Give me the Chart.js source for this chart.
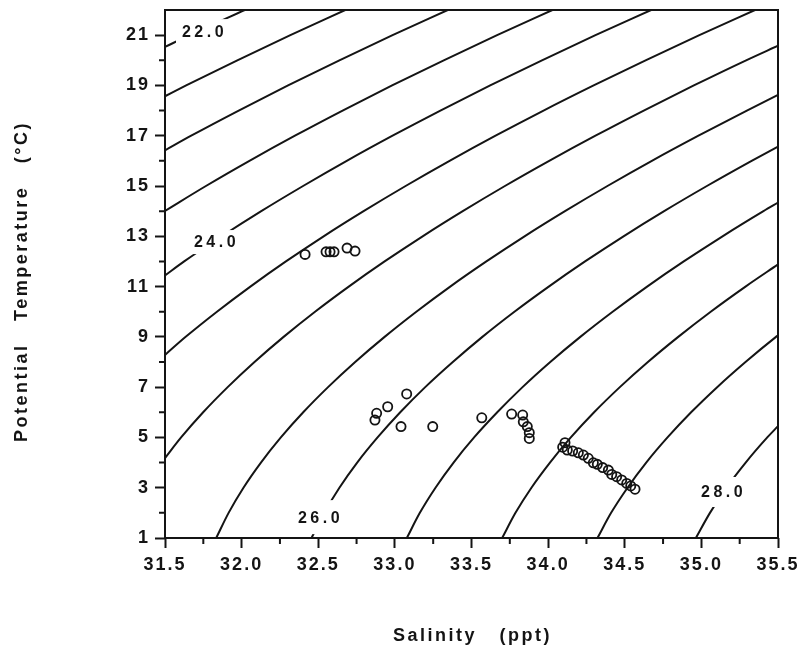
<!DOCTYPE html>
<html>
<head>
<meta charset="utf-8">
<script src="https://cdn.jsdelivr.net/npm/chart.js@4.4.1/dist/chart.umd.min.js"></script>
<style>
  html, body { margin: 0; padding: 0; background: #ffffff; }
  #wrap { width: 806px; height: 652px; }
</style>
</head>
<body>
<div id="wrap"><canvas id="c" width="806" height="652"></canvas></div>
<script>
// ---------- axis ticks ----------
const salinityTicks = [31.5, 32.0, 32.5, 33.0, 33.5, 34.0, 34.5, 35.0, 35.5];
const salinityMinorTicks = [31.75, 32.25, 32.75, 33.25, 33.75, 34.25, 34.75, 35.25];
const temperatureTicks = [1, 3, 5, 7, 9, 11, 13, 15, 17, 19, 21];
const temperatureMinorTicks = [2, 4, 6, 8, 10, 12, 14, 16, 18, 20];

// ---------- density (sigma-theta) contours: [salinity, temperature] ----------
const sigma22_0 = [[31.5,20.53],[31.66,21],[32.02,22]];
const sigma22_5 = [[31.5,18.57],[31.638,19],[31.972,20],[32.318,21],[32.676,22]];
const sigma23_0 = [[31.5,16.42],[31.671,17],[31.981,18],[32.303,19],[32.638,20],[32.985,21],[33.345,22]];
const sigma23_5 = [[31.5,14.01],[31.767,15],[32.051,16],[32.348,17],[32.659,18],[32.982,19],[33.319,20],[33.667,21],[34.028,22]];
const sigma24_0 = [[31.5,11.44],[31.625,12],[31.87,13],[32.128,14],[32.401,15],[32.686,16],[32.985,17],[33.297,18],[33.622,19],[33.96,20],[34.309,21],[34.672,22]];
const sigma24_5 = [[31.5,8.28],[31.635,9],[31.839,10],[32.057,11],[32.289,12],[32.535,13],[32.796,14],[33.07,15],[33.357,16],[33.657,17],[33.97,18],[34.297,19],[34.636,20],[34.987,21],[35.35,22]];
const sigma25_0 = [[31.5,4.18],[31.605,5],[31.749,6],[31.909,7],[32.084,8],[32.274,9],[32.479,10],[32.699,11],[32.933,12],[33.181,13],[33.443,14],[33.718,15],[34.007,16],[34.309,17],[34.624,18],[34.951,19],[35.292,20],[35.5,20.58]];
const sigma25_5 = [[31.834,1],[31.915,2],[32.012,3],[32.126,4],[32.256,5],[32.402,6],[32.564,7],[32.741,8],[32.933,9],[33.14,10],[33.361,11],[33.597,12],[33.846,13],[34.11,14],[34.387,15],[34.677,16],[34.981,17],[35.297,18],[35.5,18.62]];
const sigma26_0 = [[32.456,1],[32.539,2],[32.638,3],[32.754,4],[32.887,5],[33.035,6],[33.198,7],[33.378,8],[33.571,9],[33.78,10],[34.004,11],[34.241,12],[34.492,13],[34.757,14],[35.036,15],[35.328,16],[35.5,16.57]];
const sigma26_5 = [[33.078,1],[33.163,2],[33.265,3],[33.383,4],[33.517,5],[33.668,6],[33.833,7],[34.014,8],[34.21,9],[34.421,10],[34.646,11],[34.885,12],[35.138,13],[35.405,14],[35.5,14.34]];
const sigma27_0 = [[33.7,1],[33.787,2],[33.891,3],[34.012,4],[34.148,5],[34.3,6],[34.468,7],[34.651,8],[34.849,9],[35.061,10],[35.288,11],[35.5,11.88]];
const sigma27_5 = [[34.322,1],[34.411,2],[34.518,3],[34.64,4],[34.779,5],[34.933,6],[35.103,7],[35.288,8],[35.487,9],[35.5,9.06]];
const sigma28_0 = [[34.964,1],[35.056,2],[35.164,3],[35.289,4],[35.43,5],[35.5,5.45]];

// ---------- contour labels ----------
const labelText = ['22.0', '24.0', '26.0', '28.0'];
const labelSalinity = [31.748, 31.826, 32.505, 35.135];
const labelTemperature = [21.16, 12.77, 1.83, 2.83];

// ---------- station observations ----------
const stationSalinity = [
  32.414, 32.551, 32.577, 32.603, 32.688, 32.740,
  32.870, 32.881, 32.953, 33.077, 33.040, 33.247, 33.567,
  33.762, 33.834, 33.838, 33.864, 33.877, 33.877,
  34.110, 34.095, 34.125, 34.160, 34.197, 34.230, 34.262, 34.295, 34.321,
  34.356, 34.393, 34.415, 34.447, 34.480, 34.513, 34.539, 34.567
];
const stationTemperature = [
  12.28, 12.38, 12.38, 12.38, 12.53, 12.41,
  5.69, 5.96, 6.22, 6.73, 5.43, 5.43, 5.78,
  5.93, 5.89, 5.62, 5.43, 5.19, 4.96,
  4.79, 4.61, 4.50, 4.46, 4.39, 4.30, 4.17, 3.99, 3.93,
  3.80, 3.70, 3.53, 3.44, 3.31, 3.17, 3.07, 2.94
];

// ---------- build chart ----------
const FONT = '"Liberation Sans", Arial, Helvetica, sans-serif';
const INK = '#141414';
const contours = [sigma22_0, sigma22_5, sigma23_0, sigma23_5, sigma24_0, sigma24_5, sigma25_0,
                  sigma25_5, sigma26_0, sigma26_5, sigma27_0, sigma27_5, sigma28_0];

const datasets = contours.map(c => ({
  data: c.map(p => ({ x: p[0], y: p[1] })),
  showLine: true,
  pointRadius: 0,
  borderColor: INK,
  borderWidth: 2,
  cubicInterpolationMode: 'monotone',
  fill: false
}));
datasets.push({
  data: stationSalinity.map((s, i) => ({ x: s, y: stationTemperature[i] })),
  showLine: false,
  pointRadius: 4.6,
  pointBorderWidth: 1.8,
  pointBorderColor: INK,
  pointBackgroundColor: 'rgba(0,0,0,0)'
});

// label box sizes (style)
const labelBoxes = [[54, 24], [52, 24], [52, 34], [54, 30]];

const noPad = s => { s.paddingTop = 0; s.paddingBottom = 0; s.paddingLeft = 0; s.paddingRight = 0; };

const decor = {
  id: 'decor',
  beforeDraw(chart) {
    const ctx = chart.ctx;
    ctx.letterSpacing = '2px';
    ctx.fillStyle = '#ffffff';
    ctx.fillRect(0, 0, chart.width, chart.height);
  },
  afterDatasetsDraw(chart) {
    const ctx = chart.ctx, xs = chart.scales.x, ys = chart.scales.y;
    ctx.save();
    ctx.font = 'bold 16px ' + FONT;
    ctx.letterSpacing = '3.5px';
    ctx.textAlign = 'center';
    ctx.textBaseline = 'middle';
    labelText.forEach((t, i) => {
      const px = xs.getPixelForValue(labelSalinity[i]);
      const py = ys.getPixelForValue(labelTemperature[i]);
      const [w, h] = labelBoxes[i];
      ctx.fillStyle = '#ffffff';
      ctx.fillRect(px - w / 2, py - h / 2, w, h);
      ctx.fillStyle = INK;
      ctx.fillText(t, px + 1.5, py + 1);
    });
    ctx.restore();
  },
  afterDraw(chart) {
    const ctx = chart.ctx, a = chart.chartArea, xs = chart.scales.x, ys = chart.scales.y;
    ctx.save();
    ctx.strokeStyle = INK;
    ctx.lineWidth = 2;
    ctx.strokeRect(a.left, a.top, a.right - a.left, a.bottom - a.top);
    ctx.beginPath();
    salinityMinorTicks.forEach(v => {
      const px = xs.getPixelForValue(v);
      ctx.moveTo(px, a.bottom);
      ctx.lineTo(px, a.bottom + 6);
    });
    temperatureMinorTicks.forEach(v => {
      const py = ys.getPixelForValue(v);
      ctx.moveTo(a.left - 6, py);
      ctx.lineTo(a.left, py);
    });
    ctx.stroke();
    // axis titles
    ctx.fillStyle = INK;
    ctx.font = 'bold 18px ' + FONT;
    ctx.letterSpacing = '2.5px';
    ctx.textAlign = 'center';
    ctx.textBaseline = 'alphabetic';
    ctx.fillText('Salinity   (ppt)', (a.left + a.right) / 2 + 1, 641);
    ctx.translate(26.5, (a.top + a.bottom) / 2 + 7.5);
    ctx.rotate(-Math.PI / 2);
    ctx.fillText('Potential   Temperature   (\u00B0C)', 0, 0);
    ctx.restore();
  }
};

new Chart(document.getElementById('c'), {
  type: 'scatter',
  data: { datasets },
  options: {
    responsive: false,
    devicePixelRatio: 1,
    animation: false,
    events: [],
    layout: { padding: { left: 0, top: 10, right: 28, bottom: 0 } },
    plugins: { legend: { display: false }, tooltip: { enabled: false }, title: { display: false } },
    scales: {
      x: {
        type: 'linear',
        min: 31.5, max: 35.5,
        afterBuildTicks: s => { s.ticks = salinityTicks.map(v => ({ value: v })); },
        afterFit: s => { s.height = 114; noPad(s); },
        grid: { display: true, drawOnChartArea: false, drawTicks: true, tickLength: 10, tickWidth: 2, tickColor: INK },
        border: { display: false },
        ticks: {
          color: INK, padding: 6, maxRotation: 0, autoSkip: false,
          font: { family: FONT, size: 18, weight: 'bold' },
          callback: v => Number(v).toFixed(1)
        }
      },
      y: {
        type: 'linear',
        min: 1, max: 22,
        afterBuildTicks: s => { s.ticks = temperatureTicks.map(v => ({ value: v })); },
        afterFit: s => { s.width = 165; noPad(s); },
        grid: { display: true, drawOnChartArea: false, drawTicks: true, tickLength: 10, tickWidth: 2, tickColor: INK },
        border: { display: false },
        ticks: {
          color: INK, padding: 5, autoSkip: false,
          font: { family: FONT, size: 18, weight: 'bold' },
          callback: v => String(v)
        }
      }
    }
  },
  plugins: [decor]
});
</script>
</body>
</html>
